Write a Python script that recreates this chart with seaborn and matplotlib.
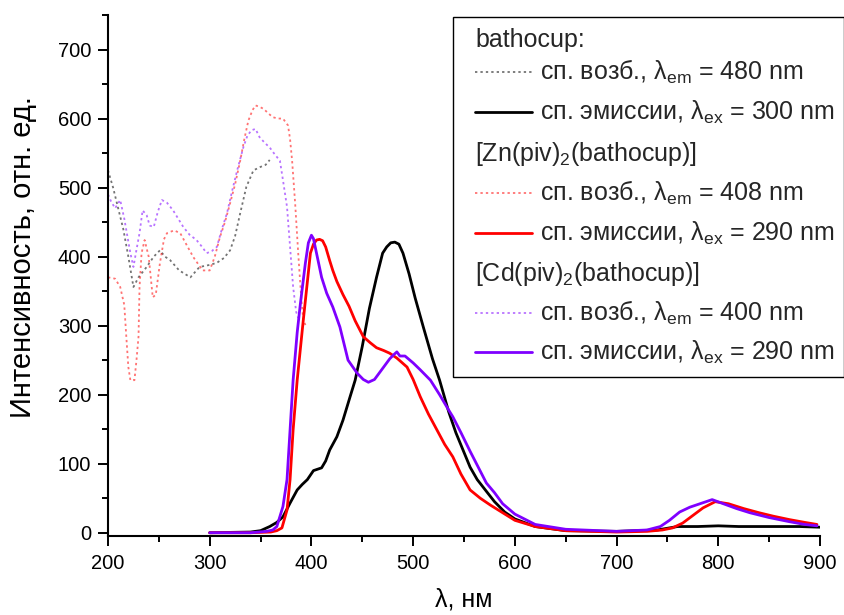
import matplotlib
matplotlib.use("Agg")
import numpy as np
import pandas as pd
import matplotlib.pyplot as plt
from matplotlib.lines import Line2D
from matplotlib.patches import Rectangle
from matplotlib.ticker import MultipleLocator
import seaborn as sns

# ---------------- spectra (wavelength, nm / intensity, rel. units) ----------------
# bathocup: excitation (lambda_em = 480 nm)
bath_exc_wl = [200, 205, 210, 215, 220, 225, 230, 238, 245, 251, 256, 261, 270, 281,
               290, 300, 307, 314, 320, 325, 330, 336, 343, 350, 355, 359]
bath_exc_i = [525, 500, 470, 440, 400, 356, 370, 385, 400, 409, 400, 395, 380, 370,
              385, 388, 391, 398, 409, 430, 463, 501, 525, 530, 533, 540]

# bathocup: emission (lambda_ex = 300 nm)
bath_em_wl = [300, 340, 350, 359, 366, 372, 379, 386, 391, 396, 402, 406, 410, 414,
              418, 425, 431, 438, 443, 450, 457, 464, 470, 474, 478, 482, 486, 490,
              496, 502, 510, 519, 526, 535, 542, 549, 556, 563, 572, 580, 590, 600,
              620, 650, 700, 740, 760, 780, 800, 820, 850, 880, 900]
bath_em_i = [0, 1, 3, 9, 15, 23, 43, 62, 70, 77, 90, 92, 94, 104,
             120, 139, 163, 197, 221, 270, 325, 370, 405, 414, 420, 421, 418, 405,
             375, 340, 298, 252, 221, 175, 145, 120, 95, 77, 60, 45, 30, 20,
             9, 3, 2, 4, 9, 9, 10, 9, 9, 9, 8]

# [Zn(piv)2(bathocup)]: excitation (lambda_em = 408 nm)
zn_exc_wl = [200, 207, 212, 216, 218, 220, 222, 226, 228, 230, 231, 233, 236, 240,
             244, 247, 251, 255, 258, 265, 271, 278, 284, 293, 300, 305, 310, 315,
             320, 325, 330, 334, 338, 342, 345, 349, 353, 358, 362, 367, 372, 377,
             379, 381, 384, 387, 390, 392, 395]
zn_exc_i = [370, 368, 356, 330, 284, 240, 221, 221, 250, 284, 356, 405, 424, 400,
            341, 345, 390, 425, 434, 438, 434, 415, 399, 380, 380, 400, 428, 450,
            477, 505, 539, 570, 597, 612, 619, 617, 614, 607, 602, 600, 600, 590,
            570, 539, 477, 405, 340, 308, 298]

# [Zn(piv)2(bathocup)]: emission (lambda_ex = 290 nm)
zn_em_wl = [300, 340, 360, 366, 371, 376, 379, 382, 386, 392, 399, 402, 405, 408,
            411, 414, 418, 421, 425, 431, 437, 443, 451, 458, 464, 471, 477, 484,
            494, 500, 507, 515, 523, 531, 539, 547, 556, 566, 576, 588, 600, 620,
            650, 700, 730, 745, 755, 765, 775, 785, 797, 810, 825, 840, 854, 870,
            885, 897]
zn_em_i = [0, 0, 1, 3, 7, 33, 77, 149, 221, 308, 405, 418, 424, 425,
           423, 414, 394, 380, 364, 345, 328, 307, 284, 275, 268, 264, 260, 253,
           240, 222, 197, 172, 150, 128, 110, 85, 62, 50, 40, 29, 18, 9,
           3, 1, 2, 4, 7, 14, 25, 36, 45, 42, 35, 29, 24, 19,
           15, 12]

# [Cd(piv)2(bathocup)]: excitation (lambda_em = 400 nm)
cd_exc_wl = [200, 203, 207, 212, 216, 219, 222, 225, 228, 231, 234, 238, 241, 245,
             249, 253, 258, 264, 269, 274, 280, 287, 292, 297, 302, 307, 312, 317,
             322, 327, 333, 337, 341, 345, 349, 354, 359, 364, 369, 372, 376, 379,
             382, 385, 387]
cd_exc_i = [490, 480, 470, 482, 455, 430, 405, 385, 410, 434, 467, 460, 445, 443,
            465, 482, 478, 467, 455, 443, 432, 424, 415, 405, 408, 414, 440, 463,
            495, 525, 558, 575, 583, 585, 573, 565, 558, 548, 539, 511, 472, 414,
            356, 320, 311]

# [Cd(piv)2(bathocup)]: emission (lambda_ex = 290 nm)
cd_em_wl = [300, 340, 356, 362, 366, 372, 376, 379, 382, 386, 389, 394, 397, 400,
            402, 405, 410, 415, 421, 428, 436, 445, 451, 456, 462, 467, 471, 477,
            481, 484, 487, 492, 500, 507, 517, 526, 534, 539, 547, 556, 564, 572,
            580, 588, 600, 620, 650, 700, 730, 743, 752, 762, 772, 782, 794, 805,
            818, 831, 850, 870, 885, 897]
cd_em_i = [0, 0, 2, 4, 9, 38, 77, 149, 221, 290, 330, 390, 420, 431,
           426, 405, 370, 347, 327, 298, 250, 231, 222, 218, 222, 232, 240, 252,
           258, 262, 256, 256, 246, 236, 221, 200, 180, 168, 145, 118, 95, 72,
           58, 42, 27, 12, 5, 2, 4, 9, 18, 30, 37, 42, 48, 42,
           35, 29, 22, 16, 12, 10]

# ---------------- legend text ----------------
legend_rows = [
    ("header", "bathocup:", None, None),
    ("exc", r"сп. возб., λ$_{\mathrm{em}}$ = 480 nm", "black", "exc"),
    ("em", r"сп. эмиссии, λ$_{\mathrm{ex}}$ = 300 nm", "black", "em"),
    ("header", r"[Zn(piv)$_{2}$(bathocup)]", None, None),
    ("exc", r"сп. возб., λ$_{\mathrm{em}}$ = 408 nm", "#FF0000", "exc"),
    ("em", r"сп. эмиссии, λ$_{\mathrm{ex}}$ = 290 nm", "#FF0000", "em"),
    ("header", r"[Cd(piv)$_{2}$(bathocup)]", None, None),
    ("exc", r"сп. возб., λ$_{\mathrm{em}}$ = 400 nm", "#7F00FF", "exc"),
    ("em", r"сп. эмиссии, λ$_{\mathrm{ex}}$ = 290 nm", "#7F00FF", "em"),
]

x_label = "λ, нм"
y_label = "Интенсивность, отн. ед."

# ---------------- styling ----------------
sns.set_theme(style="ticks")
plt.rcParams["font.family"] = ["Liberation Sans", "DejaVu Sans"]
plt.rcParams["mathtext.fontset"] = "custom"
plt.rcParams["mathtext.rm"] = "Liberation Sans"
plt.rcParams["mathtext.it"] = "Liberation Sans:italic"
plt.rcParams["mathtext.bf"] = "Liberation Sans:bold"

EXC_STYLE = dict(linestyle=(0, (1.3, 1.7)), linewidth=1.3, alpha=0.55)
EM_STYLE = dict(linestyle="-", linewidth=2.0, alpha=1.0,
                solid_joinstyle="round", solid_capstyle="round")

W, H = 845, 615
fig = plt.figure(figsize=(W / 100, H / 100), dpi=100)
ax = fig.add_axes([108 / W, 1 - 535.5 / H, 712 / W, 520.5 / H])

series = [
    (bath_exc_wl, bath_exc_i, "black", EXC_STYLE),
    (zn_exc_wl, zn_exc_i, "#FF0000", EXC_STYLE),
    (cd_exc_wl, cd_exc_i, "#7F00FF", EXC_STYLE),
    (bath_em_wl, bath_em_i, "black", EM_STYLE),
    (zn_em_wl, zn_em_i, "#FF0000", EM_STYLE),
    (cd_em_wl, cd_em_i, "#7F00FF", EM_STYLE),
]
for wl, inten, color, style in series:
    df = pd.DataFrame({"wl": wl, "I": inten})
    sns.lineplot(data=df, x="wl", y="I", ax=ax, color=color, estimator=None,
                 sort=False, **style)

ax.set_xlim(200, 900)
ax.set_ylim(-4, 750)
ax.xaxis.set_major_locator(MultipleLocator(100))
ax.xaxis.set_minor_locator(MultipleLocator(50))
ax.yaxis.set_major_locator(MultipleLocator(100))
ax.yaxis.set_minor_locator(MultipleLocator(50))

sns.despine(ax=ax)
for side in ("left", "bottom"):
    ax.spines[side].set_linewidth(1.5)
    ax.spines[side].set_color("black")
ax.tick_params(which="major", direction="out", length=7, width=1.4,
               color="black", labelsize=14.5, labelcolor="black", pad=5)
ax.tick_params(which="minor", direction="out", length=4, width=1.4, color="black")
ax.tick_params(axis="x", which="major", pad=6)

ax.set_xlabel(x_label, fontsize=18, color="black")
ax.set_ylabel(y_label, fontsize=21, color="black")
ax.xaxis.set_label_coords(0.5, -0.1)
ax.yaxis.set_label_coords(-0.10, 0.535)

# ---------------- legend box ----------------
def fx(px):
    return px / W


def fy(py):
    return 1 - py / H


fig.add_artist(Rectangle((fx(453), fy(377)), fx(844) - fx(453), fy(17) - fy(377),
                         transform=fig.transFigure, fill=False,
                         edgecolor="black", linewidth=1.0))

baselines = [47, 80, 120, 161, 201, 241, 281, 321, 360]
for (kind, text, color, style), base in zip(legend_rows, baselines):
    if kind == "header":
        fig.text(fx(475), fy(base), text, fontsize=18, va="baseline", ha="left")
    else:
        st = EXC_STYLE if style == "exc" else EM_STYLE
        fig.add_artist(Line2D([fx(475), fx(532)], [fy(base - 8), fy(base - 8)],
                              transform=fig.transFigure, color=color, **st))
        fig.text(fx(540), fy(base), text, fontsize=18, va="baseline", ha="left")

fig.savefig("out.png", dpi=100)
